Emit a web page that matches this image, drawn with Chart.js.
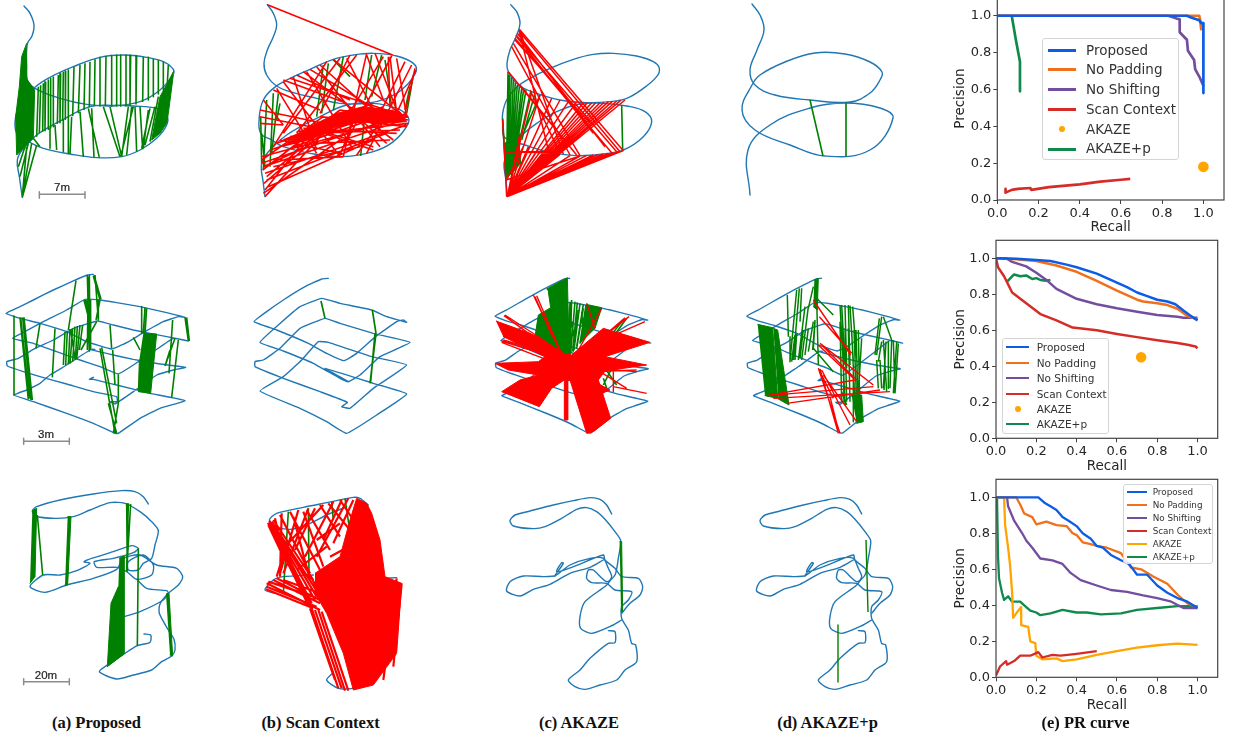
<!DOCTYPE html>
<html><head><meta charset="utf-8">
<script src="https://cdn.jsdelivr.net/npm/chart.js@4/dist/chart.umd.js"></script>
<style>
html,body{margin:0;padding:0;background:#fff;width:1233px;height:738px;overflow:hidden}
canvas{position:absolute}
.cap{position:absolute;font:bold 16.5px "Liberation Serif",serif;color:#111;transform:translate(-50%,-50%);white-space:nowrap;z-index:5}
.sb{position:absolute;font:11.5px "Liberation Sans",sans-serif;color:#222;-webkit-text-stroke:.2px #222;transform:translate(-50%,-50%);z-index:5}
.lg{position:absolute;background:rgba(255,255,255,.85);border:1px solid #d5d5d5;border-radius:3px;box-sizing:border-box;z-index:6;font-family:"DejaVu Sans",sans-serif;color:#333}
.lg div{position:absolute;white-space:nowrap;transform:translateY(-50%)}
.lg i{position:absolute;display:block}
</style></head><body>
<script>
/* ---------- PR curves: [recall, precision] ---------- */
const prLabels=["Proposed","No Padding","No Shifting","Scan Context","AKAZE","AKAZE+p"];
const prColors=["#0b5ce6","#f0701c","#744e9e","#d62c28","#ffa500","#0f8a4c"];
const tickValues=[0,0.2,0.4,0.6,0.8,1.0];

const p1Proposed=[[0,1],[.92,1],[.94,.99],[.98,.975],[.99,.96],[1,.96],[1,.58]];
const p1Padding=[[0,1],[.98,1],[.985,.97],[.99,.92]];
const p1Shifting=[[0,1],[.83,1],[.87,.985],[.885,.98],[.885,.91],[.92,.87],[.925,.81],[.955,.76],[.96,.71],[.98,.67],[1,.62]];
const p1Scan=[[.04,.06],[.04,.04],[.07,.055],[.1,.06],[.16,.065],[.165,.055],[.25,.07],[.4,.085],[.5,.1],[.6,.11],[.645,.115]];
const p1Akaze=[[1,.18]];
const p1AkazeP=[[.07,1],[.09,.87],[.11,.75],[.11,.59]];

const p2Proposed=[[0,1],[.1,.998],[.2,.99],[.27,.985],[.35,.965],[.4,.95],[.5,.915],[.6,.865],[.65,.84],[.7,.81],[.75,.79],[.8,.77],[.85,.76],[.89,.745],[.93,.71],[.96,.685],[1,.655]];
const p2Padding=[[0,1],[.1,.995],[.2,.985],[.3,.96],[.4,.925],[.5,.875],[.6,.82],[.65,.795],[.7,.77],[.73,.76],[.8,.75],[.85,.74],[.9,.72],[.95,.68],[1,.66]];
const p2Shifting=[[0,1],[.05,1],[.08,.98],[.15,.955],[.2,.92],[.25,.88],[.3,.83],[.4,.775],[.5,.745],[.6,.722],[.7,.703],[.8,.685],[.9,.675],[.93,.67],[1,.67]];
const p2Scan=[[0,1],[.01,.95],[.04,.9],[.08,.81],[.15,.75],[.22,.69],[.3,.655],[.38,.615],[.5,.6],[.6,.58],[.7,.562],[.8,.545],[.9,.53],[.95,.52],[.99,.51],[1,.5]];
const p2Akaze=[[.72,.45]];
const p2AkazeP=[[.055,.87],[.08,.9],[.09,.91],[.12,.9],[.15,.905],[.18,.885],[.2,.89],[.22,.88],[.25,.875],[.27,.88]];

const p3Proposed=[[0,1],[.21,1],[.24,.97],[.27,.95],[.3,.93],[.33,.89],[.36,.87],[.4,.84],[.43,.8],[.47,.77],[.5,.73],[.53,.72],[.57,.68],[.62,.65],[.66,.63],[.7,.57],[.75,.57],[.8,.51],[.85,.47],[.9,.44],[.95,.42],[1,.385]];
const p3Padding=[[0,1],[.1,1],[.12,.96],[.14,.91],[.18,.89],[.2,.85],[.25,.865],[.3,.845],[.35,.84],[.38,.8],[.4,.79],[.43,.75],[.47,.74],[.5,.73],[.55,.72],[.62,.69],[.67,.61],[.72,.6],[.78,.56],[.85,.52],[.9,.46],[.95,.41],[1,.39]];
const p3Shifting=[[.055,1],[.06,.95],[.09,.87],[.13,.8],[.15,.76],[.18,.72],[.22,.66],[.28,.65],[.33,.63],[.37,.58],[.42,.54],[.5,.51],[.57,.485],[.65,.475],[.73,.455],[.8,.44],[.87,.42],[.93,.385],[1,.385]];
const p3Scan=[[0,.01],[.02,.06],[.05,.09],[.055,.07],[.09,.09],[.12,.12],[.17,.12],[.21,.14],[.23,.11],[.28,.125],[.32,.12],[.4,.13],[.5,.145]];
const p3Akaze=[[0,1],[.04,1],[.045,.85],[.06,.72],[.07,.62],[.08,.47],[.085,.33],[.11,.37],[.125,.39],[.125,.29],[.16,.28],[.17,.2],[.195,.19],[.2,.12],[.23,.1],[.3,.105],[.33,.09],[.4,.1],[.5,.125],[.6,.145],[.7,.165],[.8,.178],[.9,.187],[1,.18]];
const p3AkazeP=[[.005,1],[.01,.67],[.015,.55],[.03,.47],[.04,.43],[.06,.45],[.08,.42],[.12,.42],[.15,.39],[.17,.37],[.2,.36],[.22,.345],[.27,.355],[.33,.375],[.4,.36],[.45,.36],[.52,.35],[.62,.355],[.7,.375],[.8,.385],[.9,.395],[1,.395]];

/* ---------- Row 1 trajectories and matches ---------- */
const r1aPath=[[72,18],[90,40],[102,75],[96,108],[82,132],[80,200],[82,240],[105,265],[180,295],[260,313],[340,318],[420,305],[480,270],[520,222],[518,205],[490,185],[440,172],[370,165],[300,172],[220,200],[150,232],[105,262],[65,310],[47,350],[50,400],[85,425],[130,445],[210,462],[290,473],[365,470],[420,450],[470,415],[500,375],[500,345],[470,325],[400,318],[340,316],[270,320],[190,358],[110,405],[70,445],[52,480],[58,530],[67,592]];
const r1aGreen=[[67,592,110,435],[67,592,95,430],[60,530,85,430],[55,500,75,440],[67,590,80,440],[115,260,110,410],[130,250,128,395],[145,240,145,388],[160,232,160,380],[175,225,172,372],[190,215,188,362],[205,210,205,355],[222,200,218,348],[240,195,235,340],[255,190,252,330],[270,185,268,322],[285,178,283,318],[300,172,300,318],[318,168,316,318],[335,167,335,318],[350,165,350,318],[362,165,362,318],[378,165,378,318],[392,165,390,316],[410,167,408,312],[430,170,428,306],[445,172,445,300],[460,178,460,290],[475,182,475,282],[490,187,490,270],[505,195,502,250],[475,290,450,425],[465,320,435,435],[450,325,425,445],[150,385,150,445],[165,375,170,450],[190,360,190,455],[215,350,210,462],[240,335,250,470],[265,325,298,473],[275,325,282,472],[310,320,360,470],[330,320,365,470],[400,320,362,470],[395,320,380,465],[385,320,365,470],[405,320,410,455],[420,320,428,448],[445,330,430,445],[205,355,205,460],[100,415,120,440],[122,256,118,400],[137,245,135,392],[152,236,152,384],[182,220,180,368],[197,213,196,358]];
const r1aGreenMassLeft=[[80,130],[65,170],[58,260],[47,350],[50,465],[70,445],[100,415],[104,270],[82,240]];
const r1aGreenMassRight=[[520,215],[510,235],[480,290],[470,340],[455,420],[480,400],[500,370],[505,340],[520,225]];

const r1bPath=[[82,14],[100,40],[110,75],[100,110],[82,150],[72,190],[80,225],[110,258],[160,278],[230,295],[300,310],[380,310],[440,295],[490,265],[528,215],[520,190],[470,168],[400,160],[340,165],[280,178],[210,208],[150,235],[100,265],[70,300],[58,350],[62,400],[95,420],[130,440],[210,460],[310,470],[400,455],[460,425],[505,370],[500,345],[470,325],[400,310],[320,315],[230,355],[140,405],[90,450],[65,490],[70,550],[75,590]];
const r1bGreen=[[62,350,65,490],[80,300,70,510],[100,280,90,500],[115,280,95,460],[120,310,110,360],[250,195,230,350],[265,190,245,340],[310,170,280,330],[280,180,330,230],[395,165,375,300],[425,165,395,290],[435,180,455,320],[520,225,500,340],[510,260,495,330],[378,310,362,468],[65,400,75,500]];
const r1bRed=[[82,14,458,165],[150,235,500,350],[190,215,460,420],[230,200,420,440],[280,178,490,350],[330,165,240,340],[380,160,310,470],[405,160,470,330],[430,170,340,320],[455,168,300,460],[470,175,500,350],[495,185,420,340],[515,195,380,460],[528,210,470,340],[525,205,495,340],[60,330,250,370],[60,350,310,400],[60,370,130,375],[70,300,130,375],[100,270,240,330],[130,240,320,310],[210,208,410,330],[240,195,380,320],[200,215,340,450],[160,230,230,450],[350,165,170,400],[300,175,130,400],[260,185,100,440],[400,440,200,380],[300,460,120,420],[450,170,470,340],[445,170,450,320],[380,165,430,300],[320,175,400,330],[170,225,330,300],[130,245,300,470],[110,265,230,460],[440,430,330,330],[350,465,440,340],[300,465,350,340],[65,490,500,340],[70,500,490,360],[75,520,500,375],[80,540,440,400],[85,560,400,420],[70,580,300,420],[75,590,250,400],[65,470,505,350],[90,450,460,330],[110,430,430,320],[130,420,400,310],[150,410,505,370],[170,395,500,345],[190,385,470,400],[100,500,360,440],[120,480,310,470],[70,500,200,440],[160,440,420,350],[200,400,480,390],[240,350,500,380],[220,430,450,420],[250,400,400,450],[300,330,505,360],[65,480,250,350],[68,510,300,330],[72,550,340,320],[75,570,210,400],[80,530,260,380]];
const r1bRedMass=[[130,440],[200,385],[290,340],[370,320],[480,335],[500,365],[430,370],[350,365],[280,385],[210,420]];

const r1cPath=[[92,14],[110,35],[120,70],[108,110],[90,150],[81,190],[85,215],[115,255],[170,280],[240,300],[320,308],[390,305],[440,295],[490,265],[530,230],[538,205],[520,185],[470,168],[400,160],[340,163],[280,178],[210,205],[150,235],[110,262],[80,300],[68,340],[68,370],[72,410],[100,425],[125,432],[200,455],[290,467],[370,462],[430,450],[490,410],[515,365],[495,335],[440,318],[370,310],[300,312],[230,335],[170,370],[120,410],[85,450],[72,490],[78,540],[82,590]];
const r1cGreen=[[84,215,80,500],[88,225,85,480],[100,240,90,480],[112,255,95,470],[125,265,100,480],[138,270,105,470],[152,275,110,460],[165,280,125,420],[180,285,130,400],[68,355,78,530],[70,400,80,530],[425,315,428,450],[94,232,86,490],[106,248,92,480],[118,260,98,475],[131,268,102,472]];
const r1cGreenMass=[[72,430],[78,535],[100,515],[122,490],[118,440],[100,410]];
const r1cRed=[[82,590,430,452],[82,590,415,455],[82,590,400,458],[82,590,385,460],[82,590,370,462],[82,590,355,463],[82,590,340,465],[82,590,320,466],[82,590,300,468],[82,590,270,467],[82,590,240,463],[82,590,205,455],[82,590,175,447],[82,590,145,440],[82,590,120,430],[82,590,435,300],[82,590,422,301],[82,590,410,303],[82,590,397,304],[82,590,385,305],[82,590,372,307],[82,590,360,308],[82,590,347,308],[82,590,335,308],[82,590,322,308],[82,590,310,308],[82,590,290,306],[82,590,265,305],[82,590,240,300],[82,590,215,295],[82,590,180,285],[82,590,155,277],[82,590,120,400],[118,88,430,452],[116,92,420,455],[108,105,410,455],[105,115,395,458],[100,130,300,467],[95,140,270,465],[118,88,250,462],[118,95,205,450],[68,360,80,590],[72,455,240,460],[80,540,130,440],[75,455,205,455],[78,540,300,468],[85,215,290,465],[120,255,290,465],[150,270,240,460],[112,100,375,440],[110,110,340,400],[105,120,330,370]];

const r1dPath=[[96,12],[120,45],[132,90],[111,150],[90,210],[105,255],[165,285],[270,300],[390,306],[450,279],[480,240],[486,216],[450,186],[375,162],[285,159],[195,186],[120,225],[96,255],[66,330],[105,390],[210,435],[315,468],[450,450],[519,354],[480,324],[375,309],[270,324],[150,375],[84,450],[90,585]];
const r1dGreen=[[270,300,309,468],[378,309,378,468]];

/* ---------- Row 2 ---------- */
const r2aPath=[[280,43],[262,45],[215,65],[160,90],[100,120],[60,140],[18,160],[60,175],[120,190],[200,215],[260,245],[335,267],[380,248],[430,218],[490,185],[535,170],[555,172],[500,158],[420,140],[350,128],[300,120],[255,118],[200,150],[130,185],[80,212],[38,235],[100,250],[170,275],[240,300],[300,320],[355,342],[400,315],[460,275],[520,235],[565,243],[500,230],[400,210],[340,195],[292,183],[220,205],[160,240],[100,268],[55,295],[20,305],[22,318],[70,335],[120,350],[200,372],[280,395],[350,410],[352,425],[330,425],[345,432],[400,395],[470,345],[520,330],[557,322],[480,312],[400,298],[340,285],[270,268],[285,268],[270,270],[200,315],[150,345],[120,370],[80,390],[42,405],[100,425],[200,460],[280,490],[345,520],[355,520],[420,475],[480,445],[555,422],[450,400],[350,375],[280,358],[268,358],[280,352]];
const r2aGreen=[[42,168,42,405],[60,172,85,418],[68,172,93,420],[72,172,97,420],[62,172,88,415],[120,190,108,265],[165,205,157,352],[228,62,205,210],[195,215,190,315],[202,212,197,315],[210,208,205,312],[218,205,210,310],[225,200,218,305],[232,198,226,300],[240,195,230,298],[248,195,238,270],[212,208,225,295],[262,45,268,275],[268,45,270,270],[265,50,262,270],[282,45,303,118],[285,45,295,180],[295,120,295,180],[290,185,243,270],[300,120,288,180],[280,48,300,120],[330,195,335,265],[338,270,345,375],[305,262,350,490],[300,265,345,520],[355,345,355,430],[325,430,350,520],[355,430,340,520],[400,232,420,270],[425,140,425,220],[435,142,430,220],[440,145,435,220],[518,180,507,340],[525,235,495,318],[535,240,515,412],[555,172,565,243],[560,172,568,243],[510,270,495,318]];
const r2aGreenMassA=[[250,122],[272,120],[272,265],[265,180]];
const r2aGreenMassB=[[430,220],[470,222],[452,400],[415,395],[418,300]];

const r2bPath=[[265,40],[245,42],[195,65],[130,105],[80,140],[42,170],[110,195],[205,235],[260,265],[312,287],[350,265],[410,212],[470,170],[490,165],[500,172],[440,155],[395,135],[300,115],[245,100],[180,125],[115,180],[60,232],[130,258],[220,295],[300,340],[325,350],[360,330],[420,275],[510,232],[400,205],[300,175],[255,160],[180,190],[120,250],[70,285],[45,290],[45,305],[130,340],[240,380],[322,412],[305,425],[330,430],[400,370],[500,300],[395,275],[265,232],[235,230],[185,285],[130,335],[60,378],[180,430],[260,470],[320,505],[410,450],[500,387],[400,355],[255,310],[325,350]];
const r2bGreen=[[243,108,255,160],[397,135,408,205],[408,205,390,355],[405,205,392,350]];

/* Row 2, panels c and d share one set of crop coordinates */
const r2cGreenMassA=[[200,72],[262,38],[268,270],[250,275],[200,230],[165,215],[175,150],[212,128],[205,80]];
const r2cGreenMassB=[[318,118],[365,128],[345,190],[300,235]];
const r2cGreen=[[275,105,270,270],[285,110,272,265],[292,112,278,260],[300,115,282,255],[310,118,290,245],[318,120,300,235],[270,110,265,280],[295,135,280,260],[310,130,290,250],[305,140,310,200],[275,170,285,235],[425,170,370,240],[440,160,400,215],[375,310,410,360],[395,310,370,360],[370,340,380,370]];
const r2cRedStar=[[48,168],[150,205],[190,225],[250,265],[275,270],[370,190],[510,232],[375,275],[500,300],[375,318],[355,345],[392,460],[340,500],[320,505],[270,345],[263,345],[263,465],[253,465],[253,345],[215,370],[178,425],[65,380],[120,345],[175,330],[85,315],[45,295],[175,290],[195,275],[70,215]];
const r2cRedBlob=[[335,345],[390,375],[365,385],[345,350]];
const r2cRed=[[65,228,200,270],[65,232,190,280],[70,225,210,265],[75,150,190,225],[72,152,180,230],[447,155,260,300],[435,158,270,300],[495,170,380,220],[160,90,255,290],[170,92,255,290],[165,95,215,210],[320,115,345,190],[365,130,270,300],[500,385,400,365],[360,320,440,370],[400,310,400,380],[470,315,350,320],[470,320,360,312]];
const r2dGreenMasses=[
 [[833,178],[878,188],[893,400],[855,392]],
 [[880,190],[893,195],[927,420],[895,402]],
 [[1003,45],[1015,40],[1012,135],[1000,125]],
 [[1115,390],[1145,390],[1150,470],[1130,475]]
];
const r2dGreen=[[922,90,925,215],[950,75,930,290],[958,70,940,285],[965,70,960,170],[975,125,955,285],[985,125,965,285],[1000,65,985,130],[1000,170,985,260],[1005,165,998,255],[970,195,960,280],[985,190,975,270],[945,210,935,290],[950,205,945,285],[1005,170,1000,250],[930,215,930,290],[1010,100,1015,300],[1000,250,1060,320],[1010,100,1060,150],[1080,120,1090,300],[1095,120,1100,310],[1110,122,1120,290],[1118,125,1130,280],[1085,120,1095,300],[1105,120,1110,300],[1080,170,1085,410],[1095,190,1100,410],[1115,195,1125,420],[1135,195,1140,470],[1145,220,1130,470],[1085,380,1100,420],[1205,155,1190,270],[1210,155,1235,225],[1205,230,1195,290],[1190,285,1195,370],[1210,225,1220,380],[1225,230,1225,370],[1240,225,1245,385],[1255,235,1245,385],[1235,225,1230,370],[1200,285,1205,370],[1215,290,1212,375],[1088,170,1092,410],[1105,190,1110,410],[1122,195,1130,420],[1128,195,1135,440],[1120,300,1120,470],[1138,300,1135,470],[1090,300,1095,420],[1198,160,1185,270],[1218,230,1210,370],[1250,230,1240,385]];
const r2dRed=[[860,392,1125,345],[862,392,1180,365],[880,400,1230,380],[920,415,1200,375],[1000,105,1112,270],[1018,155,1115,265],[1020,235,1180,360],[1025,240,1130,345],[1015,240,1120,340],[1015,310,1080,505],[1020,312,1075,505],[1025,315,1110,480],[1030,330,1130,470],[1050,395,1075,495],[1015,310,1060,400]];

/* ---------- Row 3 ---------- */
const r3aPath=[[445,72],[430,50],[405,35],[365,32],[280,42],[180,60],[110,80],[97,92],[105,108],[165,115],[220,110],[270,90],[330,68],[375,70],[420,95],[455,125],[475,152],[465,195],[455,235],[430,250],[415,270],[385,270],[385,245],[430,225],[460,255],[455,285],[410,298],[380,275],[350,262],[290,262],[283,245],[340,235],[400,218],[415,205],[395,197],[340,215],[285,232],[252,245],[270,250],[230,272],[180,285],[130,285],[90,320],[135,337],[200,315],[280,295],[350,268],[370,235],[420,225],[470,255],[530,265],[548,290],[535,315],[505,340],[480,372],[478,400],[505,450],[522,478],[525,510],[515,528],[485,545],[455,570],[400,585],[350,597],[298,575],[325,553],[372,522],[412,497],[450,487],[452,465],[432,462]];
const r3aPathB=[[410,298],[440,325],[500,332],[505,340],[490,360],[420,395],[372,410]];
const r3aGreen=[[112,105,128,285],[380,70,382,275],[392,72,380,275],[385,70,380,270],[415,205,412,497]];
const r3aGreenMasses=[
 [[97,92],[110,85],[105,290],[90,310]],
 [[203,110],[213,110],[203,315],[195,315]],
 [[358,235],[372,228],[372,522],[322,560],[333,370],[355,320]],
 [[498,342],[507,340],[518,528],[510,525]]
];
const r3bPaths=[
 [[385,75],[360,55],[340,52],[260,68],[190,82],[110,100],[88,120],[105,140],[150,148],[200,135],[260,105],[320,80]],
 [[220,285],[130,290],[100,300],[75,330],[105,340]],
 [[280,578],[260,600],[295,625],[340,625],[380,615]],
 [[430,295],[470,293]]
];
const r3bGreen=[[145,95,130,340],[205,85,207,280],[275,65,280,120],[315,55,340,225],[358,520,358,620],[450,370,445,500]];
const r3bRed=[[90,130,210,370],[95,125,230,350],[100,120,220,300],[105,115,130,230],[125,100,120,290],[130,225,110,290],[85,135,130,230],[120,105,210,280],[150,95,240,270],[175,90,120,280],[205,85,130,280],[225,85,165,210],[250,75,135,200],[280,65,195,230],[305,60,250,180],[325,55,230,230],[340,60,280,190],[200,90,270,210],[240,75,300,170],[265,70,330,150],[300,60,340,120],[80,310,240,390],[80,320,230,380],[78,328,220,385],[85,305,220,350],[100,300,240,370],[130,300,240,340],[110,295,250,365],[88,122,215,370],[92,130,225,360],[97,128,235,340],[84,128,205,375],[215,385,295,625],[225,390,305,625],[235,390,315,632],[245,395,325,632],[210,385,285,600],[430,290,440,500],[470,295,430,600],[485,310,460,560],[190,250,240,340],[230,180,300,130],[170,270,260,200],[270,230,345,190],[160,110,210,300],[190,95,250,260]];
const r3bRedMass=[[225,280],[300,230],[330,120],[350,55],[380,70],[395,100],[420,180],[435,290],[485,310],[470,520],[400,615],[340,630],[310,520],[260,400],[225,340]];

const r3cPath=[[365,102],[350,75],[330,58],[300,53],[250,62],[190,75],[120,93],[75,105],[60,122],[70,138],[130,146],[165,140],[215,115],[260,88],[290,83],[320,95],[345,118],[375,155],[392,182],[385,235],[375,285],[350,305],[310,270],[295,270],[290,295],[305,308],[350,310],[375,330],[425,335],[415,360],[395,380],[395,415],[415,450],[425,490],[437,495],[440,545],[405,570],[380,600],[330,615],[285,628],[255,620],[235,600],[270,570],[300,535],[355,490],[375,488],[375,455],[355,452]];
const r3cPathB=[[395,420],[370,435],[305,460],[272,445],[270,410],[285,365],[350,315],[365,290],[355,265],[340,235],[300,235],[240,255],[195,288],[220,250],[215,248],[200,275],[245,262],[340,225],[345,240],[375,265],[395,290],[445,295],[458,320],[450,345],[420,370],[395,400]];
const r3cPathC=[[195,288],[160,290],[100,288],[60,305],[50,333],[90,348],[130,328],[180,313],[240,280],[300,262],[340,240]];
const r3cGreenMass=[[389,185],[395,185],[398,395],[393,395]];
const r3dGreen=[[378,180,384,396],[294,435,294,606]];

/* ---------- Scale bars ---------- */
const bar7m=[[118,583,255,583],[118,575,118,595],[255,575,255,595]];
const bar3m=[[71,544,208,544],[71,535,71,553],[208,535,208,553]];
const bar20m=[[71,605,208,605],[71,596,71,614],[208,596,208,614]];

const captions=[["(a) Proposed",96.5],["(b) Scan Context",320.5],["(c) AKAZE",579],["(d) AKAZE+p",827.5],["(e) PR curve",1085.5]];

/* ---------- helpers ---------- */
const BLUE="#1f77b4",GREEN="#008000",RED="#ff0000",GRAY="#8c8c8c";
const pts=a=>a.map(([x,y])=>({x,y}));
const segs=l=>l.flatMap(([a,b,c,d])=>[{x:a,y:b},{x:c,y:d},{x:NaN,y:NaN}]);
const base={showLine:true,pointRadius:0,pointHoverRadius:0,fill:false,tension:0,borderCapStyle:'round',borderJoinStyle:'round'};
const path=(a,ax,t)=>({...base,data:pts(a),borderColor:BLUE,borderWidth:1.4,tension:t===undefined?0.25:t,...(ax?{xAxisID:'tx',yAxisID:'ty'}:{})});
const lines=(l,c,w)=>({...base,data:segs(l),borderColor:c,borderWidth:w||1.6,borderCapStyle:'butt'});
const mass=(a,c)=>({...base,data:pts(a),borderColor:c,backgroundColor:c,borderWidth:1,fill:'shape'});
Chart.defaults.animation=false;

function text(cls,t,x,y){const d=document.createElement('div');d.className=cls;d.textContent=t;d.style.left=x+'px';d.style.top=y+'px';document.body.appendChild(d);}
function makeCanvas(left,top,w,h){const cv=document.createElement('canvas');cv.width=w;cv.height=h;cv.style.left=left+'px';cv.style.top=top+'px';document.body.appendChild(cv);return cv;}
function mapChart(left,top,w,h,xmin,ymin,datasets,trajWin){
  const cv=makeCanvas(left,top,w,h);
  const scales={x:{type:'linear',display:false,min:xmin,max:xmin+w*3},y:{type:'linear',display:false,reverse:true,min:ymin,max:ymin+h*3}};
  if(trajWin){scales.tx={type:'linear',axis:'x',display:false,min:trajWin[0],max:trajWin[1]};
              scales.ty={type:'linear',axis:'y',display:false,reverse:true,min:trajWin[2],max:trajWin[3]};}
  new Chart(cv,{type:'scatter',data:{datasets},options:{responsive:false,devicePixelRatio:1,layout:{padding:0,autoPadding:false},
    plugins:{legend:{display:false},tooltip:{enabled:false}},events:[],scales}});
}

/* Row 1 */
mapChart(0,0,240,210,0,0,[lines(r1aGreen,GREEN),mass(r1aGreenMassLeft,GREEN),mass(r1aGreenMassRight,GREEN),path(r1aPath,false,.4),lines(bar7m,GRAY,1.5)]);
mapChart(240,0,240,210,0,0,[lines(r1bRed,RED,1.6),mass(r1bRedMass,RED),lines(r1bGreen,GREEN),path(r1bPath,false,.4)]);
mapChart(480,0,240,210,0,0,[lines(r1cRed,RED,1.5),lines(r1cGreen,GREEN),mass(r1cGreenMass,GREEN),path(r1cPath,false,.4)]);
mapChart(720,0,225,210,0,0,[lines(r1dGreen,GREEN),path(r1dPath,false,.4)]);
/* Row 2 */
mapChart(0,260,240,190,0,0,[lines(r2aGreen,GREEN),mass(r2aGreenMassA,GREEN),mass(r2aGreenMassB,GREEN),path(r2aPath,false,.1),lines(bar3m,GRAY,1.5)]);
mapChart(240,265,200,185,0,0,[lines(r2bGreen,GREEN,1.7),path(r2bPath,false,.1)]);
mapChart(480,265,240,185,0,0,[lines(r2cRed,RED,1.4),mass(r2cRedStar,RED),mass(r2cRedBlob,RED),lines(r2cGreen,GREEN),mass(r2cGreenMassA,GREEN),mass(r2cGreenMassB,GREEN),path(r2aPath,true,.1)],[-34.7,808.9,2,572.5]);
mapChart(720,265,200,185,720,0,[lines(r2dRed,RED,1.4),lines(r2dGreen,GREEN,1.5),...r2dGreenMasses.map(f=>mass(f,GREEN)),path(r2aPath,true,.1)],[-75.7,626,2,572.5]);
/* Row 3 */
mapChart(0,480,240,230,0,0,[...r3aGreenMasses.map(f=>mass(f,GREEN)),lines(r3aGreen,GREEN),path(r3aPath),path(r3aPathB),lines(bar20m,GRAY,1.5)]);
mapChart(240,480,240,230,0,0,[lines(r3bRed,RED,2.2),mass(r3bRedMass,RED),lines(r3bGreen,GREEN),...r3bPaths.map(p=>path(p))]);
mapChart(490,480,200,220,0,0,[mass(r3cGreenMass,GREEN),path(r3cPath),path(r3cPathB),path(r3cPathC)]);
mapChart(740,480,200,220,0,0,[lines(r3dGreen,GREEN,1.4),path(r3cPath),path(r3cPathB),path(r3cPathC)]);

text('sb','7m',62,187);text('sb','3m',46,433.7);text('sb','20m',46,674.7);
captions.forEach(([t,x])=>text('cap',t,x,722.5));

/* PR charts */
const frame={id:'frame',afterDraw(c){const a=c.chartArea,g=c.ctx;g.save();g.strokeStyle='#444';g.lineWidth=1.2;g.strokeRect(a.left,a.top,a.right-a.left,a.bottom-a.top);g.restore();}};
function prChart(cfg){
  const L=952,T=Math.floor(cfg.top)-1,W=Math.ceil(cfg.right)+4-L,H=Math.ceil(cfg.bottom-T)+38;
  const cv=makeCanvas(L,T,W,H);
  const datasets=cfg.series.map((s,i)=>{
    const single=s.length===1;
    return {label:prLabels[i],data:pts(s),showLine:!single,borderColor:prColors[i],backgroundColor:prColors[i],borderWidth:cfg.lw,
      pointRadius:single?4:0,pointHoverRadius:0,fill:false,tension:0,order:i===0?0:i+1,borderJoinStyle:'round'};
  });
  const tick={color:'#262626',font:{family:'DejaVu Sans',size:13},padding:2,maxRotation:0,includeBounds:false};
  const axis=(t)=>({type:'linear',min:0,max:1.1,afterBuildTicks(s){s.ticks=tickValues.map(v=>({value:v}));},
    ticks:{...tick,callback:v=>Number(v).toFixed(1)},grid:{drawOnChartArea:false,drawTicks:true,tickLength:4,color:'#444',lineWidth:1},
    border:{display:false},title:{display:true,text:t,color:'#262626',font:{family:'DejaVu Sans',size:13.5},padding:{top:0,bottom:2}}});
  const flat=s=>{s.paddingTop=0;s.paddingBottom=0;s.paddingLeft=0;s.paddingRight=0;};
  new Chart(cv,{type:'scatter',data:{datasets},plugins:[frame],options:{responsive:false,devicePixelRatio:1,events:[],
    layout:{autoPadding:false,padding:{top:cfg.top-T,right:W-(cfg.right-L),bottom:H-38-(cfg.bottom-T)}},plugins:{legend:{display:false},tooltip:{enabled:false}},
    scales:{x:{...axis('Recall'),afterFit(s){s.height=38;flat(s);}},y:{...axis('Precision'),afterFit(s){s.width=cfg.left-L;flat(s);}}}}});
  /* legend built from the chart's datasets */
  const b=document.createElement('div');b.className='lg';const [x0,y0,x1,y1]=cfg.box;
  b.style.cssText=`left:${x0}px;top:${y0}px;width:${x1-x0}px;height:${y1-y0}px;font-size:${cfg.fs}px`;
  datasets.forEach((d,i)=>{
    const y=cfg.ys[i]-y0,mark=document.createElement('i');
    if(d.showLine){mark.style.cssText=`left:${cfg.lx[0]-x0}px;top:${Math.round(y-1.2)}px;width:${cfg.lx[1]-cfg.lx[0]}px;height:${cfg.mh}px;background:${d.borderColor}`;}
    else{const m=(cfg.lx[0]+cfg.lx[1])/2-x0;mark.style.cssText=`left:${m-3}px;top:${y-3}px;width:6px;height:6px;border-radius:50%;background:${d.borderColor}`;}
    const t=document.createElement('div');t.textContent=d.label;t.style.left=(cfg.tx-x0)+'px';t.style.top=y+'px';
    b.appendChild(mark);b.appendChild(t);
  });
  document.body.appendChild(b);
}
prChart({top:-2.7,bottom:200,left:997.3,right:1224,lw:2.7,mh:3,series:[p1Proposed,p1Padding,p1Shifting,p1Scan,p1Akaze,p1AkazeP],
  box:[1041.7,37.7,1179.3,160],lx:[1046.7,1075],tx:1085,fs:13.5,ys:[49,68.3,88,108,128,147.5]});
prChart({top:240.3,bottom:438.3,left:996,right:1217.7,lw:2.5,mh:2,series:[p2Proposed,p2Padding,p2Shifting,p2Scan,p2Akaze,p2AkazeP],
  box:[1001.7,337.7,1109.3,433.7],lx:[1005,1028.3],tx:1035.7,fs:10.5,ys:[346.3,362,377.3,392.7,408.3,423.3]});
prChart({top:479.3,bottom:677.3,left:996,right:1217.7,lw:2.3,mh:2,series:[p3Proposed,p3Padding,p3Shifting,p3Scan,p3Akaze,p3AkazeP],
  box:[1123.3,484,1213.3,564],lx:[1126,1145.7],tx:1151.7,fs:8.8,ys:[491.3,504.3,517,529.7,542.7,555.7]});
</script>
</body></html>
